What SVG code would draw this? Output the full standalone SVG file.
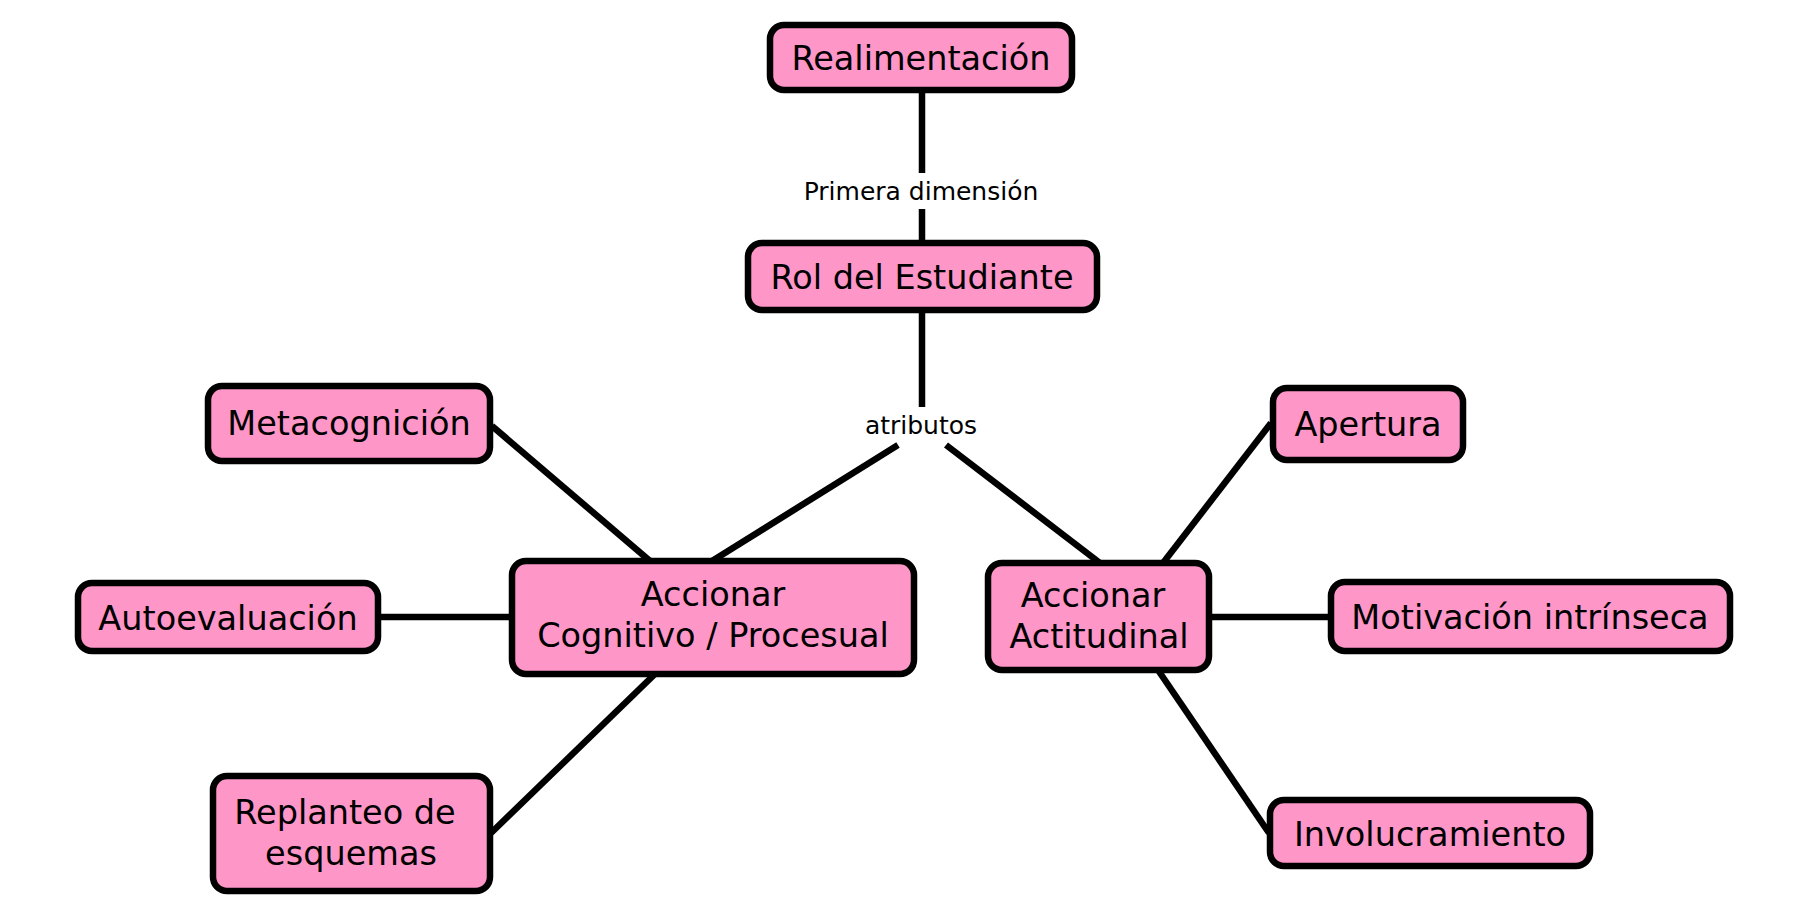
<svg xmlns="http://www.w3.org/2000/svg" width="1812" height="921" viewBox="0 0 1812 921">
<style>
.n{fill:#FF96C8;stroke:#000;stroke-width:6.5}
.t{font-family:"DejaVu Sans",Verdana,sans-serif;font-size:33.5px;fill:#000;text-anchor:middle}
.l{font-family:"DejaVu Sans",Verdana,sans-serif;font-size:25px;fill:#000;text-anchor:middle}
.c{stroke:#000;stroke-width:6.5;fill:none}
</style>
<rect width="1812" height="921" fill="#fff"/>
<g id="connectors">
<line class="c" x1="922" y1="91" x2="922" y2="173"/>
<line class="c" x1="922" y1="209" x2="922" y2="243"/>
<line class="c" x1="922" y1="310" x2="922" y2="407"/>
<line class="c" x1="898" y1="445" x2="712" y2="561"/>
<line class="c" x1="946" y1="445" x2="1100" y2="563"/>
<line class="c" x1="492" y1="426" x2="650" y2="561"/>
<line class="c" x1="378" y1="617" x2="512" y2="617"/>
<line class="c" x1="491" y1="833" x2="655" y2="674"/>
<line class="c" x1="1271" y1="423" x2="1163" y2="563"/>
<line class="c" x1="1209" y1="617" x2="1331" y2="617"/>
<line class="c" x1="1158" y1="670" x2="1269" y2="833"/>
<text class="l" x="921" y="200">Primera dimensión</text>
<text class="l" x="921" y="434">atributos</text>
</g>
<g id="realimentacion">
<rect class="n" x="770" y="25" width="302" height="65" rx="14"/>
<text class="t" x="921" y="70">Realimentación</text>
</g>
<g id="rol">
<rect class="n" x="748" y="243" width="349" height="67" rx="14"/>
<text class="t" x="922" y="289">Rol del Estudiante</text>
</g>
<g id="metacognicion">
<rect class="n" x="208" y="386" width="282" height="75" rx="14"/>
<text class="t" x="349" y="435">Metacognición</text>
</g>
<g id="cognitivo">
<rect class="n" x="512" y="561" width="402" height="113" rx="14"/>
<text class="t" x="713" y="606">Accionar</text>
<text class="t" x="713" y="647">Cognitivo / Procesual</text>
</g>
<g id="autoevaluacion">
<rect class="n" x="78" y="583" width="300" height="68" rx="14"/>
<text class="t" x="228" y="630">Autoevaluación</text>
</g>
<g id="replanteo">
<rect class="n" x="213" y="776" width="277" height="115" rx="14"/>
<text class="t" x="345" y="824">Replanteo de</text>
<text class="t" x="351" y="865">esquemas</text>
</g>
<g id="apertura">
<rect class="n" x="1273" y="388" width="190" height="72" rx="14"/>
<text class="t" x="1368" y="436">Apertura</text>
</g>
<g id="actitudinal">
<rect class="n" x="988" y="563" width="221" height="107" rx="14"/>
<text class="t" x="1093" y="607">Accionar</text>
<text class="t" x="1099" y="648">Actitudinal</text>
</g>
<g id="motivacion">
<rect class="n" x="1331" y="582" width="399" height="69" rx="14"/>
<text class="t" x="1530" y="629">Motivación intrínseca</text>
</g>
<g id="involucramiento">
<rect class="n" x="1270" y="800" width="320" height="66" rx="14"/>
<text class="t" x="1430" y="846">Involucramiento</text>
</g>
</svg>
